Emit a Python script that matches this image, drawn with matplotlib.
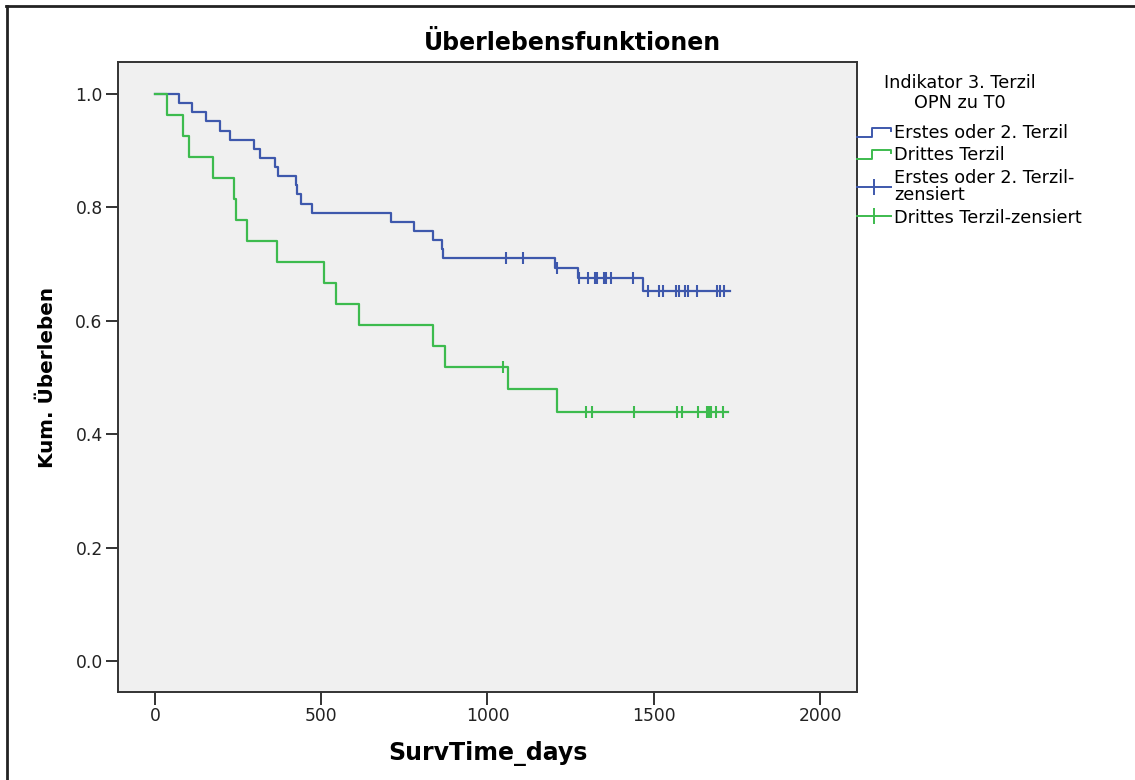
import numpy as np
import matplotlib
matplotlib.use("Agg")
import matplotlib.pyplot as plt
from matplotlib.lines import Line2D
from matplotlib.legend_handler import HandlerBase

plt.rcParams['font.family'] = ['DejaVu Sans']

# Kaplan-Meier steps (days, cumulative survival)
blue_time = [0, 72, 112, 154, 195, 226, 299, 316, 361, 369, 424, 428, 439, 473,
             709, 779, 837, 862, 867, 1203, 1273, 1467]
blue_surv = [1.0, 0.984, 0.968, 0.952, 0.935, 0.919, 0.903, 0.887, 0.871, 0.855,
             0.839, 0.823, 0.806, 0.790, 0.774, 0.758, 0.742, 0.726, 0.710, 0.693,
             0.676, 0.652]
blue_censor = [1056, 1106, 1208, 1275, 1301, 1323, 1329, 1349, 1356, 1371, 1438,
               1483, 1517, 1528, 1567, 1577, 1595, 1604, 1630, 1691, 1699, 1712]
blue_end = 1729

green_time = [0, 37, 85, 102, 174, 239, 244, 277, 366, 509, 544, 613, 837, 871,
              1063, 1210]
green_surv = [1.0, 0.963, 0.926, 0.889, 0.852, 0.815, 0.778, 0.741, 0.704, 0.667,
              0.630, 0.593, 0.556, 0.519, 0.479, 0.439]
green_censor = [1048, 1296, 1313, 1441, 1569, 1584, 1634, 1659, 1667, 1671, 1687, 1707]
green_end = 1724

legend_title = 'Indikator 3. Terzil\nOPN zu T0'
labels = ['Erstes oder 2. Terzil', 'Drittes Terzil',
          'Erstes oder 2. Terzil-\nzensiert', 'Drittes Terzil-zensiert']
x_ticks = [0, 500, 1000, 1500, 2000]
y_ticks = [0.0, 0.2, 0.4, 0.6, 0.8, 1.0]

BLUE = '#3E58AC'
GREEN = '#3DBB4E'


class StepHandler(HandlerBase):
    def create_artists(self, legend, orig, xdescent, ydescent, width, height,
                       fontsize, trans):
        x0, y0 = -xdescent, -ydescent
        xs = [x0, x0 + 0.45 * width, x0 + 0.45 * width, x0 + width, x0 + width]
        ys = [y0 + 0.1 * height, y0 + 0.1 * height, y0 + 0.85 * height,
              y0 + 0.85 * height, y0 + 0.6 * height]
        return [Line2D(xs, ys, color=orig.get_color(), lw=orig.get_linewidth(),
                       transform=trans)]


def draw_km(ax, time, surv, censor, end, color):
    xs = list(time) + [end]
    ys = list(surv) + [surv[-1]]
    ax.step(xs, ys, where='post', color=color, lw=1.6)
    idx = np.searchsorted(time, censor, side='right') - 1
    cy = np.asarray(surv)[idx]
    ax.plot(censor, cy, ls='none', marker='|', ms=9, mew=1.5, color=color)


fig = plt.figure(figsize=(11.35, 7.8), dpi=100)
ax = fig.add_axes([118 / 1135, 1 - 692 / 780, (857 - 118) / 1135, (692 - 62) / 780])
ax.set_facecolor('#F0F0F0')

draw_km(ax, blue_time, blue_surv, blue_censor, blue_end, BLUE)
draw_km(ax, green_time, green_surv, green_censor, green_end, GREEN)

ax.set_xlim(-111, 2111)
ax.set_ylim(-0.0547, 1.0564)
ax.set_xticks(x_ticks)
ax.set_yticks(y_ticks)
ax.set_yticklabels([f'{v:.1f}' for v in y_ticks])
ax.tick_params(length=9, width=1.3, pad=2, labelsize=12.3, colors='#222222')
for sp in ax.spines.values():
    sp.set_color('#333333')
    sp.set_linewidth(1.4)

fig.text(572 / 1135, 1 - 43 / 780, 'Überlebensfunktionen', fontsize=17,
         fontweight='bold', ha='center', va='center')
ax.set_xlabel('SurvTime_days', fontsize=17, fontweight='bold', labelpad=11)
ax.set_ylabel('Kum. Überleben', fontsize=14.4, fontweight='bold', labelpad=13)

# legend title as separate centred text, entries below it
fig.text(960 / 1135, 1 - 93 / 780, legend_title, fontsize=12.7, ha='center',
         va='center', linespacing=1.15)
handles = [Line2D([], [], color=BLUE, lw=1.4), Line2D([], [], color=GREEN, lw=1.4),
           Line2D([], [], color=BLUE, lw=1.4, marker='|', ms=12, mew=1.4),
           Line2D([], [], color=GREEN, lw=1.4, marker='|', ms=12, mew=1.4)]
leg = fig.legend(handles, labels, loc='upper left',
                 bbox_to_anchor=(857 / 1135, 1 - 124 / 780),
                 frameon=False, fontsize=12.7, handlelength=1.95,
                 handletextpad=0.15, labelspacing=0.25, borderpad=0,
                 borderaxespad=0, numpoints=1,
                 handler_map={handles[0]: StepHandler(), handles[1]: StepHandler()})
for t in leg.get_texts():
    t.set_linespacing(0.95)

# outer frame of the exported chart (top and left edges only)
fig.add_artist(Line2D([6 / 1135, 1], [1 - 6 / 780, 1 - 6 / 780],
                      transform=fig.transFigure, color='#222222', lw=2))
fig.add_artist(Line2D([6.5 / 1135, 6.5 / 1135], [0, 1 - 6 / 780],
                      transform=fig.transFigure, color='#222222', lw=2))

fig.savefig('out.png', dpi=100)
